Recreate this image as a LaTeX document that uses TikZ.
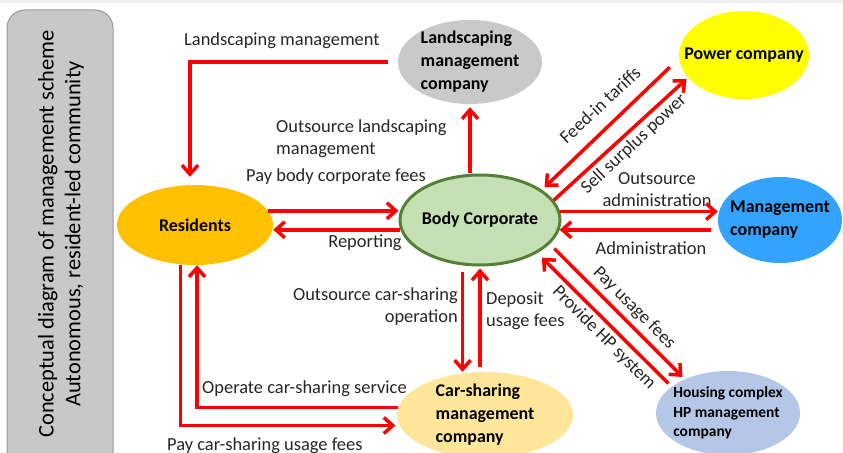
\documentclass[tikz,border=0pt]{standalone}
\usepackage{fontspec}
\setmainfont{Carlito}
\usetikzlibrary{arrows.meta, shapes.geometric}

\definecolor{boxgray}{RGB}{200,200,200}
\definecolor{landgray}{RGB}{201,201,201}
\definecolor{poweryellow}{RGB}{255,255,0}
\definecolor{resorange}{RGB}{255,192,0}
\definecolor{bcgreen}{RGB}{197,224,180}
\definecolor{bcborder}{RGB}{84,130,53}
\definecolor{mgmtblue}{RGB}{51,163,255}
\definecolor{carcream}{RGB}{255,230,153}
\definecolor{hpblue}{RGB}{180,199,231}

\begin{document}
\begin{tikzpicture}[x=1bp, y=-1bp,
party/.style={ellipse, inner sep=-10bp, align=left, text=black,
font={\bfseries\fontsize{18}{23}\selectfont}},
lbl/.style={inner sep=0pt, text=black!85, font={\fontsize{18.5}{22}\selectfont}},
flow/.style={draw=red, line width=3.5bp, -{Straight Barb[length=9bp, width=16bp]}},
]
\useasboundingbox (0,0) rectangle (843,453);
\clip (0,0) rectangle (843,453);

\fill[black!6] (0,0) rectangle (843,3);
\draw[fill=boxgray, draw=black!40, line width=1bp, rounded corners=18bp] (7,10) rectangle (113,470);
\node[rotate=90, align=center, font={\fontsize{22.5}{27}\selectfont}] (title) at (61,234)
{Conceptual diagram of management scheme\\Autonomous, resident-led community};

\path
(470,62) node[party, fill=landgray, minimum width=144bp, minimum height=84bp] (land) {Landscaping\\management\\company}
(744,55) node[party, fill=poweryellow, inner xsep=-17bp, minimum width=130bp, minimum height=88bp] (power) {Power company}
(195,225) node[party, fill=resorange, minimum width=156bp, minimum height=80bp] (res) {Residents}
(480,220) node[party, fill=bcgreen, draw=bcborder, line width=3bp, minimum width=160bp, minimum height=90bp] (bc) {Body Corporate}
(780,220) node[party, fill=mgmtblue, minimum width=124bp, minimum height=86bp] (mgmt) {Management\\company}
(485,415) node[party, fill=carcream, minimum width=176bp, minimum height=86bp] (car) {Car-sharing\\management\\company}
(728,413) node[party, fill=hpblue, minimum width=144bp, minimum height=84bp,
font={\bfseries\fontsize{15.5}{19.5}\selectfont}] (hp) {Housing complex\\HP management\\company}
;

% money and services
\begin{scope}[flow]
\draw[shorten <=10bp, shorten >=8bp] (land.west) -| ([xshift=-5bp]res.north);
\draw[shorten >=3bp] (bc.north -| land.south) -- (land.south);
\draw (res.11) -- (res.11 -| bc.west);
\draw (bc.187) -- (bc.187 -| res.east);
\draw[shorten <=12.7bp, shorten >=3.6bp] (power.183) -- (bc.26);
\draw[shorten >=2bp] (bc.15) -- (power.202);
\draw (bc.6) -- (bc.6 -| mgmt.west);
\draw[shorten <=7bp] (bc.353 -| mgmt.west) -- (bc.353);
\draw[shorten <=7bp] (bc.249) -- (bc.249 |- car.north);
\draw[shorten <=5bp, shorten >=2bp] (bc.south |- car.north) -- (bc.south);
\draw[shorten <=6.5bp, shorten >=3.2bp] (bc.341) -- (hp.142);
\draw[shorten <=4.6bp, shorten >=6.5bp] (hp.155) -- (bc.330);
\draw (car.175) -| ([xshift=2bp]res.south);
\draw[shorten >=4bp] (res.250) |- (car.187);
\end{scope}

% labels
\node[lbl, anchor=west] (t1) at (184,41) {Landscaping management};
\node[lbl, anchor=west, align=left] (t2) at (276,139) {Outsource landscaping\\management};
\node[lbl, anchor=west] (t3) at (246,177) {Pay body corporate fees};
\node[lbl] (t4) at (365,243) {Reporting};
\node[lbl, rotate=43] (t5) at (600,105) {Feed-in tariffs};
\node[lbl, rotate=43] (t6) at (634,144) {Sell surplus power};
\node[lbl, align=center] (t7) at (657,190) {Outsource\\administration};
\node[lbl] (t8) at (651,248) {Administration};
\node[lbl, anchor=east, align=right] (t9) at (458,307) {Outsource car-sharing\\operation};
\node[lbl, anchor=west, align=left] (t10) at (486,311) {Deposit\\usage fees};
\node[lbl, rotate=-45] (t11) at (634,308) {Pay usage fees};
\node[lbl, rotate=-45] (t12) at (604,338) {Provide HP system};
\node[lbl, anchor=west] (t13) at (202,389) {Operate car-sharing service};
\node[lbl, anchor=west] (t14) at (167,446) {Pay car-sharing usage fees};

\end{tikzpicture}
\end{document}
